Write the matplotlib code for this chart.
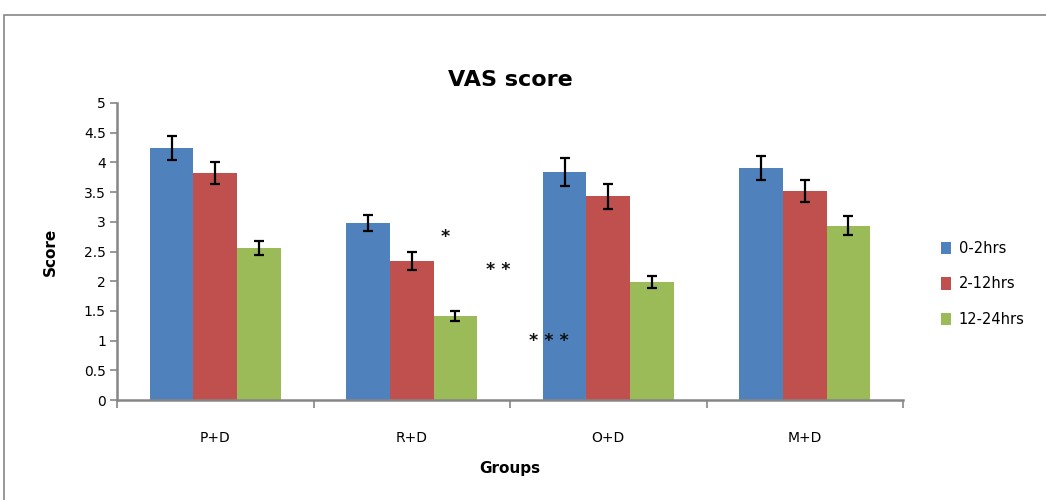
import numpy as np
import matplotlib
matplotlib.use('Agg')
from matplotlib import pyplot as plt
from matplotlib.patches import Rectangle

groups = ['P+D', 'R+D', 'O+D', 'M+D']
series = ['0-2hrs', '2-12hrs', '12-24hrs']
vas_0_2 = [4.24, 2.98, 3.84, 3.91]
vas_2_12 = [3.82, 2.34, 3.43, 3.52]
vas_12_24 = [2.56, 1.41, 1.99, 2.93]
err_0_2 = [0.20, 0.13, 0.24, 0.20]
err_2_12 = [0.18, 0.15, 0.21, 0.18]
err_12_24 = [0.12, 0.08, 0.10, 0.16]
# significance marks (x in category units, y in score)
stars = ['*', '* *', '* * *']
star_x = [1.17, 1.44, 1.70]
star_y = [2.74, 2.19, 0.99]

colors = ['#4f81bd', '#c0504d', '#9bbb59']
axis_gray = '#868686'

fig = plt.figure(figsize=(10.46, 5.0), dpi=100)
ax = fig.add_axes([0.1119, 0.2, 0.7514, 0.594])

# outer chart frame
fig.patches.append(Rectangle((4 / 1046, -0.2), 1.2, 0.97 + 0.2, transform=fig.transFigure,
                             fill=False, edgecolor=axis_gray, lw=1.2, clip_on=False))

x = np.arange(len(groups))
w = 0.222
vals = [vas_0_2, vas_2_12, vas_12_24]
errs = [err_0_2, err_2_12, err_12_24]
for i in range(3):
    ax.bar(x + (i - 1) * w, vals[i], w, color=colors[i], label=series[i],
           yerr=errs[i], error_kw=dict(ecolor='black', elinewidth=1.6, capsize=3.5, capthick=1.6))

for s, sx, sy in zip(stars, star_x, star_y):
    ax.text(sx, sy, s, ha='center', va='center', fontsize=12.5, fontweight='bold', color='#111111')

ax.set_xlim(-0.5, 3.5)
ax.set_ylim(0, 5)
ax.set_yticks(np.arange(0, 5.01, 0.5))
ax.set_yticklabels(['0', '0.5', '1', '1.5', '2', '2.5', '3', '3.5', '4', '4.5', '5'])
ax.set_xticks(x)
ax.set_xticklabels(groups)
ax.set_xticks(np.arange(-0.5, 4, 1), minor=True)
ax.tick_params(axis='x', which='major', length=0, pad=22, labelsize=10)
ax.tick_params(axis='x', which='minor', length=6, color=axis_gray, width=1.2)
ax.tick_params(axis='y', length=5, color=axis_gray, width=1.2, labelsize=10, pad=3)

for sp in ['top', 'right']:
    ax.spines[sp].set_visible(False)
for sp in ['left', 'bottom']:
    ax.spines[sp].set_color(axis_gray)
    ax.spines[sp].set_linewidth(1.8)

ax.set_title('VAS score', fontsize=16, fontweight='bold', pad=12)
ax.set_ylabel('Score', fontsize=11, fontweight='bold', labelpad=19)
ax.set_xlabel('Groups', fontsize=11, fontweight='bold', labelpad=12)

fig.legend(loc='center left', bbox_to_anchor=(928 / 1046, 1 - 284 / 500), frameon=False,
           fontsize=10.5, handlelength=0.7, handleheight=0.9, labelspacing=1.4, handletextpad=0.5)

fig.savefig('out.png', dpi=100)
